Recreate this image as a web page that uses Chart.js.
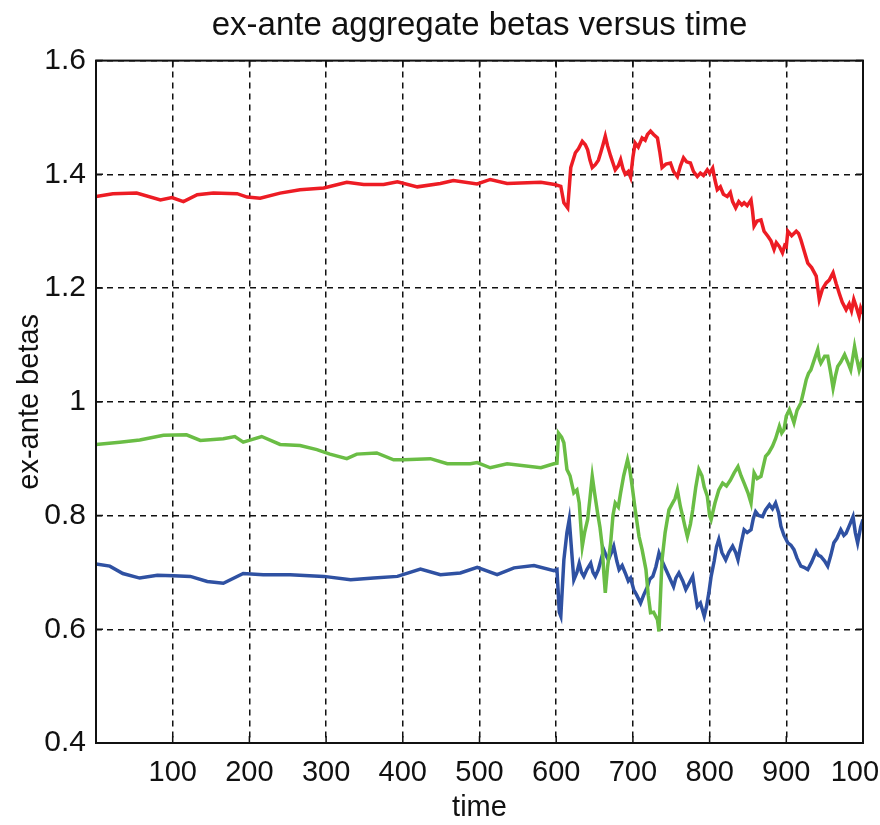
<!DOCTYPE html>
<html>
<head>
<meta charset="utf-8">
<script src="https://cdn.jsdelivr.net/npm/chart.js@4.4.1/dist/chart.umd.min.js"></script>
<style>
  body { margin: 0; background: #fff; }
  canvas { display: block; }
</style>
</head>
<body>
<canvas id="betaChart" width="880" height="825"></canvas>
<script>
// ex-ante aggregate betas, three portfolios over time
const redTime = [0, 22, 53, 84, 99, 114, 132, 153, 184, 197,
  214, 240, 266, 297, 327, 349, 375, 393, 419, 449,
  466, 497, 514, 536, 580, 598, 606, 610, 615, 619,
  625, 629, 634, 638, 641, 644, 647, 651, 655, 658,
  661, 664, 667, 671, 674, 677, 681, 684, 687, 690,
  694, 697, 700, 703, 707, 712, 716, 719, 723, 727,
  732, 735, 738, 743, 749, 753, 758, 762, 766, 770,
  775, 779, 784, 788, 792, 797, 800, 804, 807, 810,
  814, 818, 823, 827, 830, 834, 838, 842, 845, 849,
  854, 856, 858, 862, 867, 871, 876, 880, 884, 887,
  891, 895, 898, 900, 902, 907, 913, 916, 919, 924,
  928, 933, 939, 941, 943, 947, 952, 956, 961, 965,
  969, 973, 978, 982, 985, 988, 991, 995, 997, 1000];
const redBeta = [1.361, 1.366, 1.367, 1.355, 1.359, 1.352, 1.364, 1.367, 1.366, 1.360,
  1.358, 1.367, 1.373, 1.376, 1.386, 1.382, 1.382, 1.387, 1.378, 1.384,
  1.389, 1.383, 1.391, 1.384, 1.386, 1.382, 1.379, 1.350, 1.341, 1.412,
  1.438, 1.445, 1.458, 1.452, 1.443, 1.425, 1.412, 1.417, 1.425, 1.438,
  1.452, 1.467, 1.450, 1.432, 1.420, 1.408, 1.415, 1.426, 1.410, 1.400,
  1.405, 1.395, 1.430, 1.455, 1.448, 1.464, 1.460, 1.470, 1.476, 1.470,
  1.464, 1.440, 1.412, 1.418, 1.420, 1.405, 1.396, 1.415, 1.429, 1.422,
  1.420, 1.405, 1.396, 1.402, 1.398, 1.408, 1.402, 1.411, 1.390, 1.373,
  1.378, 1.365, 1.361, 1.368, 1.352, 1.341, 1.352, 1.346, 1.350, 1.345,
  1.355, 1.335, 1.309, 1.318, 1.320, 1.300, 1.291, 1.283, 1.268, 1.280,
  1.273, 1.262, 1.275, 1.273, 1.300, 1.292, 1.300, 1.296, 1.285, 1.262,
  1.244, 1.236, 1.221, 1.200, 1.180, 1.198, 1.209, 1.214, 1.227, 1.208,
  1.191, 1.175, 1.162, 1.172, 1.160, 1.180, 1.168, 1.150, 1.165, 1.155];

const greenTime = [0, 31, 57, 88, 118, 136, 166, 181, 192, 216,
  240, 266, 288, 305, 327, 340, 366, 388, 401, 436,
  458, 488, 497, 514, 536, 580, 597, 601, 603, 607,
  610, 614, 618, 623, 627, 630, 634, 637, 641, 644,
  647, 650, 654, 657, 660, 662, 664, 667, 671, 674,
  677, 681, 684, 688, 693, 696, 699, 703, 708, 712,
  717, 720, 723, 727, 732, 734, 736, 738, 742, 747,
  751, 755, 758, 762, 765, 768, 771, 775, 778, 782,
  786, 790, 793, 797, 800, 802, 807, 812, 817, 822,
  827, 832, 837, 841, 845, 850, 854, 858, 862, 867,
  873, 877, 882, 886, 891, 894, 897, 900, 904, 907,
  910, 914, 919, 922, 926, 929, 932, 936, 941, 943,
  945, 950, 954, 958, 961, 964, 967, 971, 976, 980,
  984, 987, 989, 992, 995, 998, 1000];
const greenBeta = [0.925, 0.929, 0.933, 0.941, 0.942, 0.932, 0.935, 0.939, 0.929, 0.939,
  0.925, 0.923, 0.916, 0.908, 0.900, 0.908, 0.910, 0.898, 0.898, 0.900,
  0.891, 0.891, 0.893, 0.884, 0.891, 0.884, 0.891, 0.892, 0.945, 0.938,
  0.928, 0.881, 0.870, 0.840, 0.845, 0.822, 0.746, 0.770, 0.793, 0.830,
  0.869, 0.840, 0.804, 0.780, 0.746, 0.700, 0.664, 0.710, 0.752, 0.800,
  0.822, 0.815, 0.840, 0.870, 0.898, 0.880, 0.852, 0.810, 0.763, 0.740,
  0.705, 0.660, 0.629, 0.630, 0.617, 0.596, 0.660, 0.722, 0.770, 0.810,
  0.820, 0.830, 0.845, 0.815, 0.798, 0.780, 0.763, 0.785, 0.810, 0.850,
  0.881, 0.870, 0.850, 0.834, 0.800, 0.793, 0.822, 0.845, 0.857, 0.852,
  0.862, 0.875, 0.886, 0.870, 0.857, 0.840, 0.822, 0.875, 0.865, 0.869,
  0.904, 0.910, 0.922, 0.935, 0.957, 0.945, 0.951, 0.975, 0.986, 0.975,
  0.963, 0.985, 0.998, 1.015, 1.039, 1.050, 1.056, 1.072, 1.092, 1.075,
  1.068, 1.080, 1.080, 1.050, 1.024, 1.045, 1.062, 1.070, 1.083, 1.070,
  1.056, 1.080, 1.097, 1.075, 1.056, 1.070, 1.077];

const blueTime = [0, 18, 35, 57, 80, 101, 123, 145, 166, 192,
  218, 253, 297, 332, 362, 393, 423, 449, 475, 497,
  523, 545, 571, 597, 601, 604, 606, 610, 614, 617,
  620, 623, 627, 630, 633, 636, 640, 645, 648, 651,
  655, 659, 662, 665, 668, 672, 675, 679, 682, 686,
  690, 694, 697, 701, 705, 710, 714, 719, 722, 726,
  730, 734, 738, 743, 748, 753, 756, 760, 765, 769,
  773, 778, 781, 784, 788, 793, 796, 799, 802, 806,
  809, 812, 816, 821, 825, 830, 834, 837, 841, 845,
  849, 854, 857, 860, 864, 869, 873, 878, 882, 886,
  890, 893, 897, 902, 906, 910, 914, 919, 923, 928,
  933, 939, 942, 945, 950, 954, 958, 962, 966, 971,
  975, 978, 983, 987, 990, 993, 997, 1000];
const blueBeta = [0.715, 0.711, 0.698, 0.690, 0.695, 0.694, 0.693, 0.684, 0.681, 0.698,
  0.696, 0.696, 0.693, 0.687, 0.690, 0.693, 0.706, 0.696, 0.699, 0.709,
  0.696, 0.708, 0.712, 0.703, 0.705, 0.630, 0.623, 0.722, 0.770, 0.793,
  0.740, 0.687, 0.700, 0.716, 0.700, 0.693, 0.705, 0.716, 0.700, 0.693,
  0.705, 0.725, 0.740, 0.730, 0.722, 0.735, 0.746, 0.720, 0.705, 0.712,
  0.699, 0.685, 0.690, 0.670, 0.660, 0.646, 0.660, 0.675, 0.688, 0.693,
  0.710, 0.734, 0.720, 0.705, 0.690, 0.675, 0.690, 0.699, 0.685, 0.670,
  0.680, 0.693, 0.665, 0.640, 0.646, 0.623, 0.640, 0.664, 0.693, 0.720,
  0.745, 0.758, 0.735, 0.722, 0.735, 0.746, 0.735, 0.722, 0.750, 0.775,
  0.770, 0.775, 0.795, 0.807, 0.800, 0.798, 0.810, 0.819, 0.812, 0.822,
  0.805, 0.781, 0.765, 0.752, 0.748, 0.740, 0.725, 0.711, 0.709, 0.705,
  0.718, 0.737, 0.730, 0.728, 0.720, 0.711, 0.730, 0.752, 0.760, 0.775,
  0.765, 0.769, 0.785, 0.798, 0.770, 0.752, 0.780, 0.793];

const xTicks = [0, 100, 200, 300, 400, 500, 600, 700, 800, 900, 1000];
const yTicks = [0.4, 0.6, 0.8, 1, 1.2, 1.4, 1.6];

const FONT = "'Liberation Sans', Arial, sans-serif";

function toPoints(xs, ys) {
  return xs.map((x, i) => ({ x: x, y: ys[i] }));
}

// matlab-style axes box with inward tick marks
const axesBox = {
  id: 'axesBox',
  afterDraw(chart) {
    const { ctx, chartArea: a, scales } = chart;
    ctx.save();
    ctx.strokeStyle = '#111';
    ctx.lineWidth = 1.5;
    ctx.beginPath();
    xTicks.forEach(v => {
      const px = scales.x.getPixelForValue(v);
      ctx.moveTo(px, a.bottom); ctx.lineTo(px, a.bottom - 7);
      ctx.moveTo(px, a.top); ctx.lineTo(px, a.top + 7);
    });
    yTicks.forEach(v => {
      const py = scales.y.getPixelForValue(v);
      ctx.moveTo(a.left, py); ctx.lineTo(a.left + 7, py);
      ctx.moveTo(a.right, py); ctx.lineTo(a.right - 7, py);
    });
    ctx.stroke();
    ctx.lineWidth = 2;
    ctx.strokeRect(a.left, a.top, a.right - a.left, a.bottom - a.top);
    ctx.restore();
  }
};

const lineStyle = { borderWidth: 3.5, pointRadius: 0, tension: 0, fill: false };

new Chart(document.getElementById('betaChart'), {
  type: 'line',
  data: {
    datasets: [
      { ...lineStyle, label: 'high', data: toPoints(redTime, redBeta), borderColor: '#ED1C24' },
      { ...lineStyle, label: 'mid', data: toPoints(greenTime, greenBeta), borderColor: '#6ABD45' },
      { ...lineStyle, label: 'low', data: toPoints(blueTime, blueBeta), borderColor: '#2F51A2' }
    ]
  },
  options: {
    responsive: false,
    animation: false,
    layout: { padding: { left: 0, right: 17, top: 0, bottom: 0 } },
    plugins: {
      legend: { display: false },
      tooltip: { enabled: false },
      title: {
        display: true,
        fullSize: false,
        text: 'ex-ante aggregate betas versus time',
        color: '#111',
        font: { family: FONT, size: 33, weight: 'normal', lineHeight: 1.2 },
        padding: { top: 6, bottom: 15 }
      }
    },
    scales: {
      x: {
        type: 'linear',
        min: 0,
        max: 1000,
        afterBuildTicks: s => { s.ticks = xTicks.map(v => ({ value: v })); },
        afterFit: s => { s.height = 82; s.paddingLeft = 0; s.paddingRight = 0; },
        ticks: {
          autoSkip: false,
          maxRotation: 0,
          padding: 13,
          color: '#111',
          font: { family: FONT, size: 29, lineHeight: 1.2 },
          callback: v => (v === 0 ? '' : v)
        },
        grid: { color: '#111', lineWidth: 1.5, drawTicks: false },
        border: { display: false, dash: [6, 5] },
        title: {
          display: true,
          text: 'time',
          color: '#111',
          font: { family: FONT, size: 29, lineHeight: 1.2 },
          padding: { top: 0, bottom: 0 }
        }
      },
      y: {
        min: 0.4,
        max: 1.6,
        afterBuildTicks: s => { s.ticks = yTicks.map(v => ({ value: v })); },
        afterFit: s => { s.width = 96; s.paddingTop = 0; s.paddingBottom = 0; },
        ticks: {
          padding: 10,
          color: '#111',
          font: { family: FONT, size: 30, lineHeight: 1.2 },
          callback: v => String(v)
        },
        grid: { color: '#111', lineWidth: 1.5, drawTicks: false },
        border: { display: false, dash: [6, 5] },
        title: {
          display: true,
          text: 'ex-ante betas',
          color: '#111',
          font: { family: FONT, size: 29, lineHeight: 1.2 },
          padding: { top: 13, bottom: 0 }
        }
      }
    }
  },
  plugins: [axesBox]
});
</script>
</body>
</html>
